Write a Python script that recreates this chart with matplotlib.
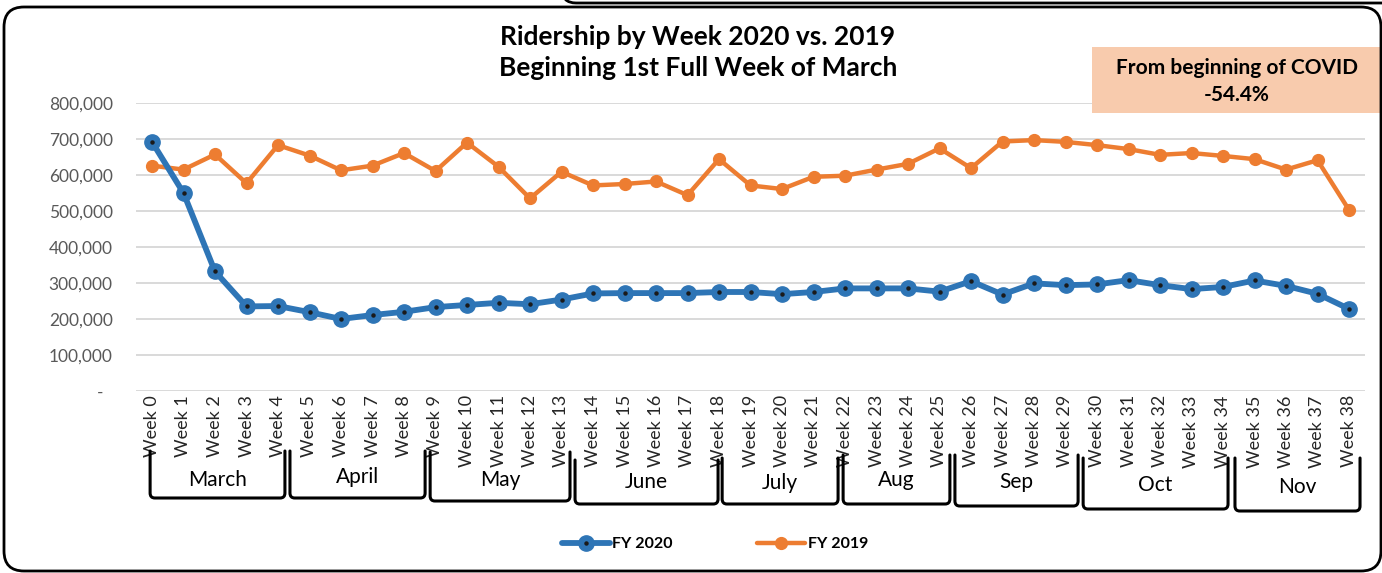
import matplotlib
matplotlib.use("Agg")
import matplotlib.pyplot as plt
import matplotlib.transforms as mtrans
from matplotlib.patches import FancyBboxPatch, PathPatch, Rectangle
from matplotlib.path import Path
from matplotlib.legend_handler import HandlerTuple
from matplotlib.ticker import FuncFormatter

# ---------------- data ----------------
weeks = [f"Week {i}" for i in range(39)]
fy2020 = [692000, 550000, 332000, 235000, 236000, 219000, 200000, 211000, 220000, 233000,
          239000, 245000, 241000, 254000, 271000, 272000, 272000, 272000, 275000, 275000,
          269000, 275000, 285000, 285000, 285000, 276000, 305000, 268000, 299000, 294000,
          296000, 308000, 294000, 283000, 289000, 307000, 292000, 270000, 228000]
fy2019 = [626000, 615000, 657000, 577000, 683000, 654000, 613000, 626000, 661000, 611000,
          690000, 623000, 535000, 609000, 571000, 575000, 582000, 544000, 644000, 571000,
          561000, 595000, 598000, 615000, 631000, 674000, 619000, 693000, 697000, 692000,
          683000, 672000, 656000, 661000, 653000, 644000, 615000, 641000, 503000]
months = ["March", "April", "May", "June", "July", "Aug", "Sep", "Oct", "Nov"]
yticks = [0, 100000, 200000, 300000, 400000, 500000, 600000, 700000, 800000]
title_lines = ["Ridership by Week 2020 vs. 2019", "Beginning 1st Full Week of March"]
note_lines = ["From beginning of COVID", "-54.4%"]

# ---------------- layout of month brackets (week units / pixels) ----------------
bracket_left = [-0.06, 4.38, 8.83, 13.43, 18.10, 21.94, 25.49, 29.56, 34.38]
bracket_right = [4.22, 8.67, 13.27, 17.97, 21.78, 25.33, 29.40, 34.16, 38.35]
bracket_bottom = [498, 498, 501, 504, 504, 504, 506, 509, 511]
bracket_top = [451, 451, 452, 460, 458, 455, 455, 458, 458]
label_y = [480, 477, 480, 482, 483, 480, 482, 485, 487]

# ---------------- style ----------------
FONT = "Lato"
plt.rcParams["font.family"] = [FONT, "DejaVu Sans"]
BLUE = "#2E75B6"
ORANGE = "#ED7D31"
W, H = 1382, 573

fig = plt.figure(figsize=(W / 100, H / 100), dpi=100)
fig.patch.set_facecolor("white")

def fx(px):
    return px / W

def fy(py):
    return 1 - py / H

ax = fig.add_axes([fx(136.25), fy(391), (1364.75 - 136.25) / W, 288 / H])
x = list(range(len(weeks)))
l19, = ax.plot(x, fy2019, color=ORANGE, lw=3.2, marker="o", ms=8.5,
               solid_capstyle="round", zorder=3, label="FY 2019")
l20, = ax.plot(x, fy2020, color=BLUE, lw=4.2, marker="o", ms=11,
               solid_capstyle="round", zorder=4, label="FY 2020")
d20, = ax.plot(x, fy2020, ls="none", marker="o", ms=2.2, color="#1a1a1a", zorder=5)

ax.set_xlim(-0.5, len(weeks) - 0.5)
ax.set_ylim(0, 800000)
ax.set_yticks(yticks)
ax.yaxis.set_major_formatter(FuncFormatter(lambda v, p: "-  " if v == 0 else f"{v:,.0f}"))
ax.set_xticks(x)
ax.set_xticklabels(weeks, rotation=90, fontsize=13, color="#262626", va="top")
ax.tick_params(axis="x", length=0, pad=3)
ax.tick_params(axis="y", length=0, pad=17, labelsize=12.5, labelcolor="#595959")
ax.yaxis.grid(True, color="#D9D9D9", lw=1.4)
ax.set_axisbelow(True)
for s in ax.spines.values():
    s.set_visible(False)

leg = ax.legend([(l20, d20), l19], ["FY 2020", "FY 2019"],
                handler_map={tuple: HandlerTuple(ndivide=1, pad=0)},
                loc="center", bbox_to_anchor=(fx(715), fy(544)),
                bbox_transform=fig.transFigure, ncol=2, frameon=False,
                handlelength=3.0, columnspacing=5.3, handletextpad=0.15,
                prop={"family": FONT, "weight": "bold", "size": 11.5})

# ---------------- overlay (pixel coords) ----------------
ov = fig.add_axes([0, 0, 1, 1], zorder=10)
ov.set_xlim(0, W)
ov.set_ylim(H, 0)
ov.axis("off")
ov.patch.set_alpha(0)

for i, t in enumerate(title_lines):
    ov.text(698, 37 + i * 31, t, ha="center", va="center", fontsize=19,
            fontweight="bold", color="black")

ov.add_patch(Rectangle((1092, 47), 290, 66, facecolor="#F8CBAD", edgecolor="none"))
for i, t in enumerate(note_lines):
    ov.text(1237, 68 + i * 27, t, ha="center", va="center", fontsize=15,
            fontweight="bold", color="black")

# outer rounded border
ov.add_patch(FancyBboxPatch((4, 7), 1377, 564, boxstyle="round,pad=0,rounding_size=20",
                            facecolor="none", edgecolor="black", lw=2))
ov.add_patch(FancyBboxPatch((562, -60), 900, 63, boxstyle="round,pad=0,rounding_size=14",
                            facecolor="none", edgecolor="black", lw=2))

# month brackets: x in week units (main axes), y in pixels
btr = mtrans.blended_transform_factory(ax.transData, ov.transData)
for i, m in enumerate(months):
    a, b = bracket_left[i], bracket_right[i]
    top, bot = bracket_top[i], bracket_bottom[i]
    r_w, r_p = 0.15, 5
    verts = [(a, top), (a, bot - r_p), (a, bot), (a + r_w, bot), (b - r_w, bot),
             (b, bot), (b, bot - r_p), (b, top)]
    codes = [Path.MOVETO, Path.LINETO, Path.CURVE3, Path.CURVE3, Path.LINETO,
             Path.CURVE3, Path.CURVE3, Path.LINETO]
    ov.add_patch(PathPatch(Path(verts, codes), transform=btr, facecolor="none",
                           edgecolor="black", lw=2.2, capstyle="round", joinstyle="round"))
    ov.text((a + b) / 2, label_y[i], m, transform=btr, ha="center", va="center",
            fontsize=15, color="black")

fig.savefig("out.png", dpi=100)
